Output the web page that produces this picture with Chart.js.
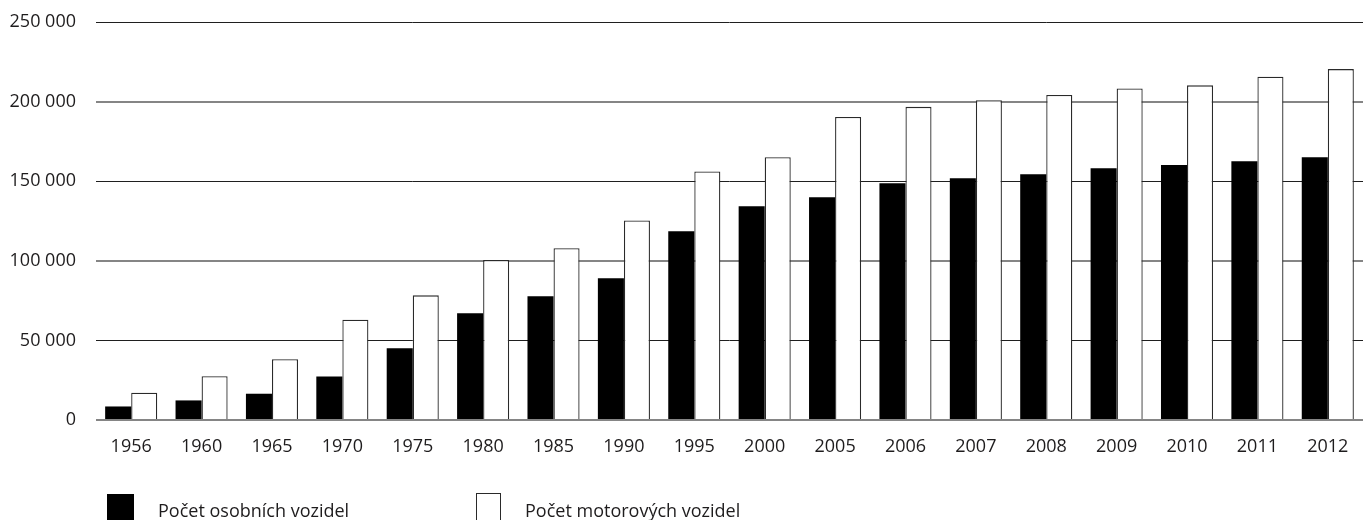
<!DOCTYPE html>
<html lang="cs">
<head>
<meta charset="utf-8">
<title>Počet vozidel</title>
<script src="https://cdn.jsdelivr.net/npm/chart.js@4/dist/chart.umd.min.js"></script>
<style>
  html, body { margin: 0; padding: 0; background: #fff; overflow: hidden; }
  #wrap { width: 1363px; height: 520px; }
</style>
</head>
<body>
<div id="wrap"><canvas id="c" width="1363" height="520"></canvas></div>
<script>
// Years on the category axis
const years = ['1956', '1960', '1965', '1970', '1975', '1980', '1985', '1990', '1995',
               '2000', '2005', '2006', '2007', '2008', '2009', '2010', '2011', '2012'];

// Passenger cars
const osobniVozidla = [8500, 12300, 16500, 27400, 45000, 67000, 77700, 89000, 118600,
                       134300, 139900, 148700, 151900, 154400, 158200, 160100, 162600, 165100];

// All motor vehicles
const motorovaVozidla = [17100, 27500, 38200, 63000, 78300, 100500, 107900, 125300, 156100,
                         165100, 190400, 196700, 200900, 204100, 208300, 210200, 215600, 220400];

// Value axis ticks
const yTicks = [0, 50000, 100000, 150000, 200000, 250000];

const seriesNames = ['Počet osobních vozidel', 'Počet motorových vozidel'];

const FONT = '"Open Sans", "Noto Sans", sans-serif';
const TEXT = '#1e1c1d';

function formatThousands(v) {
  return String(v).replace(/\B(?=(\d{3})+(?!\d))/g, ' ');
}

// Legend drawn under the plot: square swatch followed by the series name
const bottomLegend = {
  id: 'bottomLegend',
  afterDraw(chart) {
    const ctx = chart.ctx;
    const items = [{ x: 107, w: 27 }, { x: 476, w: 25 }];
    ctx.save();
    chart.data.datasets.forEach((ds, i) => {
      const it = items[i];
      ctx.fillStyle = ds.backgroundColor;
      ctx.fillRect(it.x, 494, it.w, 34);
      if (ds.borderWidth) {
        ctx.strokeStyle = ds.borderColor;
        ctx.lineWidth = 1;
        ctx.strokeRect(it.x + 0.5, 493.5, it.w - 1, 34);
      }
      ctx.fillStyle = TEXT;
      ctx.font = '18px ' + FONT;
      ctx.textBaseline = 'alphabetic';
      ctx.textAlign = 'left';
      ctx.fillText(ds.label, it.x + it.w + 24, 517);
    });
    ctx.restore();
  }
};

new Chart(document.getElementById('c'), {
  type: 'bar',
  data: {
    labels: years,
    datasets: [
      {
        label: seriesNames[0],
        data: osobniVozidla,
        backgroundColor: '#000000',
        borderWidth: 0
      },
      {
        label: seriesNames[1],
        data: motorovaVozidla,
        backgroundColor: '#ffffff',
        borderColor: '#2a2a2a',
        borderWidth: 1.3
      }
    ]
  },
  options: {
    responsive: false,
    animation: false,
    layout: { padding: { top: 22, right: 0, bottom: 0, left: 0 } },
    datasets: {
      bar: { categoryPercentage: 0.74, barPercentage: 1.0 }
    },
    plugins: {
      legend: { display: false },
      tooltip: { enabled: false }
    },
    scales: {
      x: {
        grid: { display: false, drawTicks: false },
        border: { display: false },
        ticks: {
          color: TEXT,
          font: { family: FONT, size: 18 },
          padding: 16,
          maxRotation: 0,
          autoSkip: false
        },
        afterFit(scale) {
          scale.height = 100;
          scale.paddingLeft = 0;
          scale.paddingRight = 0;
        }
      },
      y: {
        min: 0,
        max: 250000,
        afterBuildTicks(scale) { scale.ticks = yTicks.map(v => ({ value: v })); },
        grid: {
          drawTicks: false,
          color: ctx => (ctx.tick && (ctx.tick.value === 200000 || ctx.tick.value === 100000 || ctx.tick.value === 0)) ? '#858585' : '#1f1f1f',
          lineWidth: ctx => (ctx.tick && (ctx.tick.value === 200000 || ctx.tick.value === 100000 || ctx.tick.value === 0)) ? 2 : 1
        },
        border: { display: false },
        ticks: {
          color: TEXT,
          font: { family: FONT, size: 18 },
          padding: 20,
          callback: v => formatThousands(v)
        },
        afterFit(scale) {
          scale.width = 96;
          scale.paddingTop = 0;
          scale.paddingBottom = 0;
        }
      }
    }
  },
  plugins: [bottomLegend]
});
</script>
</body>
</html>
